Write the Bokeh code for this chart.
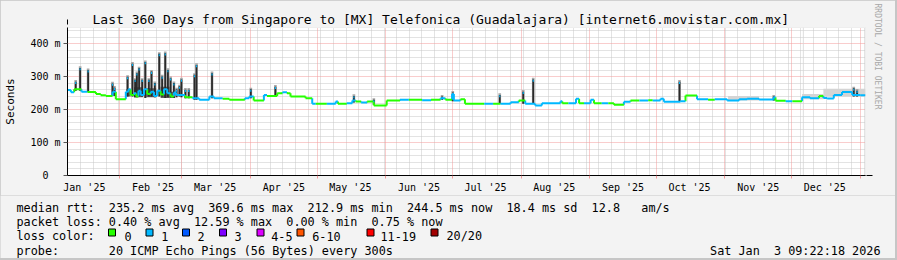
from datetime import datetime, timedelta
import math
from bokeh.plotting import figure
from bokeh.layouts import column
from bokeh.models import (FixedTicker, Grid, Arrow, NormalHead, Range1d, Title)
from bokeh.core.properties import value
from bokeh.embed import file_html
from bokeh.resources import INLINE

# ---------------- data ----------------
start = datetime(2025, 1, 8, 9, 22, 18)
end = datetime(2026, 1, 3, 9, 22, 18)

month_starts = ["2025-02-01", "2025-03-01", "2025-04-01", "2025-05-01", "2025-06-01",
                "2025-07-01", "2025-08-01", "2025-09-01", "2025-10-01", "2025-11-01",
                "2025-12-01", "2026-01-01"]
month_label_firsts = ["2025-01-01", "2025-02-01", "2025-03-01", "2025-04-01", "2025-05-01",
                      "2025-06-01", "2025-07-01", "2025-08-01", "2025-09-01", "2025-10-01",
                      "2025-11-01", "2025-12-01"]
month_labels = ["Jan '25", "Feb '25", "Mar '25", "Apr '25", "May '25", "Jun '25",
                "Jul '25", "Aug '25", "Sep '25", "Oct '25", "Nov '25", "Dec '25"]

y_ticks = [0, 100, 200, 300, 400]
y_tick_labels = ["0\u00a0\u00a0", "100 m", "200 m", "300 m", "400 m"]

# median rtt (ms) as steps: start day, value, loss class (0 -> 0 lost, 1 -> 1 lost)
base_day = [0, 1.5, 3, 6.3, 9, 12.8, 15, 17.3, 20.3, 21.8,
            26.3, 27.5, 28.5, 30, 31, 32, 33, 34.5, 36, 37.5, 39, 40.5, 42, 43.5, 45, 46.5, 48, 49,
            53, 56.4, 59.4, 64, 66, 70, 73, 80, 82, 84, 88.6, 90, 94.6, 97, 99, 100.6, 107.4,
            110.4, 112, 117, 121, 122, 126, 128.5, 130, 132.5, 135.2, 138.2, 144, 150, 154, 160,
            164, 168.3, 170.5, 173.5, 174.3, 177.3, 179.3, 188, 192, 195.3, 199.9, 203.6, 206.5,
            211, 214, 222.4, 223.2, 226, 229.4, 230.8, 233, 236, 237.5, 241, 244, 246.5, 251,
            254, 258, 262, 264, 267.5, 269, 276.5, 278.8, 284, 289, 292, 297.6, 303, 306.6, 312,
            318.6, 319.4, 324, 327, 331.4, 335, 339, 341, 342.7, 345.7, 349.4, 354, 357.7]
base_val = [260, 253, 262, 255, 254, 248, 244, 242, 255, 232,
            255, 262, 245, 250, 240, 258, 245, 262, 248, 255, 242, 258, 246, 262, 250, 240, 252,
            245, 238, 235, 230, 240, 235, 233, 230, 235, 240, 228, 245, 242, 250, 253, 250,
            240, 235, 218, 218, 218, 225, 218, 220, 228, 225, 222, 225, 213, 228, 230, 230, 229,
            230, 235, 230, 248, 228, 232, 218, 218, 218, 218, 223, 228, 218, 213, 220, 226, 220,
            220, 233, 220, 220, 230, 220, 220, 220, 215, 224, 228, 228, 229, 228, 233, 224, 226,
            243, 232, 230, 232, 228, 232, 233, 231, 238, 227, 226, 226, 238, 235, 242, 236, 234,
            245, 254, 245, 244]
base_loss = [1, 1, 0, 1, 0, 0, 0, 0, 1, 0,
             1, 1, 0, 1, 0, 1, 1, 1, 0, 1, 1, 1, 0, 1, 1, 0, 1,
             1, 0, 1, 1, 1, 1, 0, 0, 1, 1,
             0, 1, 0, 0, 1, 0, 0, 0, 1, 0, 1, 1, 0, 1, 1, 0, 1, 0, 0, 0, 1, 0, 1, 0, 1, 0, 1, 1,
             0, 0, 1, 0, 1, 1, 0, 1, 1, 1, 1, 0, 1, 1, 0, 1, 1, 0, 1, 0, 0, 1, 0, 1, 0, 1, 1, 1,
             1, 0, 1, 0, 1, 1, 1, 1, 1, 1, 0, 1, 0, 1, 1, 0, 1, 1, 1, 1, 1, 1]

# dense smoke spikes: day, lowest, highest rtt (ms)
spike_day = [3.7, 5.7, 9.3, 20.3, 21.2, 27.1, 29.3, 30.5, 31.3, 32.3, 33.7, 35.1, 36.7, 37.9,
             39.4, 41.4, 42.7, 44.1, 45.3, 46.5, 48.0, 49.2, 50.5, 51.4, 53.2, 54.7, 57.3, 58.2,
             65.2, 82.7, 93.8, 129.2, 138.2, 169.0, 173.8, 195.0, 205.6, 210.1, 276.1, 318.6,
             354.7, 356.2]
spike_top = [285, 327, 320, 280, 267, 300, 340, 291, 311, 326, 291, 345, 291, 316, 281, 370, 301,
             372, 321, 296, 281, 262, 271, 292, 261, 261, 306, 336, 311, 262, 270, 242, 230, 240,
             252, 245, 255, 292, 285, 240, 265, 258]
spike_low = [258, 258, 254, 242, 242, 240, 240, 238, 238, 240, 240, 236, 240, 240, 238, 240, 240,
             236, 238, 238, 236, 238, 240, 238, 235, 235, 230, 230, 235, 235, 245, 222, 215, 230,
             226, 218, 218, 218, 226, 228, 240, 240]

# dense smoke bands: start day, end day, low, high
dark_start = [26.5, 30.0, 35.5, 42.0, 46.0]
dark_end = [28.5, 34.0, 40.0, 46.0, 48.5]
dark_low = [240, 238, 238, 236, 236]
dark_high = [262, 268, 265, 270, 255]

# faint smoke bands: start day, end day, low, high
light_start = [298.0, 331.4, 341.0, 331.75]
light_end = [312.0, 341.0, 360.0, 332.1]
light_low = [228, 232, 240, 0]
light_high = [242, 248, 264, 450]

loss_colors = ["#26ff00", "#00b8ff", "#0059ff", "#7e00ff", "#dd00ff", "#ff5500", "#ff0000", "#a10000"]
loss_names = ["0", "1", "2", "3", "4-5", "6-10", "11-19", "20/20"]

stats_row1 = [("median rtt:", 0), ("235.2 ms avg", 13), ("369.6 ms max", 27), ("212.9 ms min", 41),
              ("244.5 ms now", 55), ("18.4 ms sd", 69), ("12.8", 81), ("am/s", 88)]
stats_row2 = [("packet loss:", 0), ("0.40 % avg", 13), ("12.59 % max", 25), ("0.00 % min", 38),
              ("0.75 % now", 50)]

# ---------------- helpers ----------------
def dday(s):
    if isinstance(s, str):
        s = datetime.strptime(s, "%Y-%m-%d")
    return (s - start).total_seconds() / 86400.0

span_days = dday(end)
ms_days = [dday(s) for s in month_starts]
lab_days = [dday(datetime.strptime(s, "%Y-%m-%d") + timedelta(days=15)) for s in month_label_firsts]

W, H = 897, 260
FW_ALL = 895          # figures leave a 2px shaded strip on the right
H1 = 195              # main figure height
H2 = 63               # legend figure height
L, TOP, FW, FH = 67, 27, 798, 151
MONO = "DejaVu Sans Mono"
BG = "#f3f3f3"

p = figure(width=FW_ALL, height=H1, output_backend="svg", toolbar_location=None,
           x_range=Range1d(0, span_days), y_range=Range1d(0, 450),
           min_border_left=L, min_border_right=FW_ALL - L - FW, min_border_top=TOP,
           min_border_bottom=H1 - TOP - FH)
p.border_fill_color = BG
p.background_fill_color = "#ffffff"
p.outline_line_color = None
p.grid.visible = False

p.title.text = "Last 360 Days from Singapore to [MX] Telefonica (Guadalajara) [internet6.movistar.com.mx]"
p.title.text_font = MONO
p.title.text_font_size = "13px"
p.title.text_font_style = "normal"
p.title.text_color = "#000000"
p.title.align = "left"
p.title.offset = 25
p.title.standoff = 2

p.add_layout(Title(text="RRDTOOL / TOBI OETIKER", text_font=MONO, text_font_size="8px",
                   text_font_style="normal", text_color="#a8a8a8", align="left",
                   vertical_align="top", offset=-24, standoff=10), "right")

# ---------------- grids ----------------
minor_y = [v for v in range(20, 450, 20) if v % 100 != 0]
minor_x = [6.0 + 5.7 * k for k in range(63) if 6.0 + 5.7 * k < span_days]
p.add_layout(Grid(dimension=1, ticker=FixedTicker(ticks=minor_y), grid_line_color="#c6c6c6",
                  grid_line_dash="1 1", level="underlay"))
p.add_layout(Grid(dimension=0, ticker=FixedTicker(ticks=minor_x), grid_line_color="#c6c6c6",
                  grid_line_dash="1 1", level="underlay"))
p.add_layout(Grid(dimension=1, ticker=FixedTicker(ticks=y_ticks[1:]), grid_line_color="#f29a9a",
                  grid_line_dash="1 1", level="underlay"))
p.add_layout(Grid(dimension=0, ticker=FixedTicker(ticks=ms_days), grid_line_color="#f29a9a",
                  grid_line_dash="1 1", level="underlay"))

# ---------------- smoke ----------------
p.quad(left=light_start, right=light_end, bottom=light_low, top=light_high,
       fill_color="#d4d4d4", line_color=None)
p.quad(left=[d - 0.6 for d in spike_day], right=[d + 0.6 for d in spike_day],
       bottom=spike_low, top=[t + 5 for t in spike_top], fill_color="#a8a8a8", line_color=None)
p.quad(left=dark_start, right=dark_end, bottom=dark_low, top=dark_high,
       fill_color="#3a3a3a", line_color=None, fill_alpha=0.8)
p.quad(left=[d - 0.4 for d in spike_day], right=[d + 0.4 for d in spike_day],
       bottom=spike_low, top=spike_top, fill_color="#2a2a2a", line_color=None)

# ---------------- median line ----------------
ends = base_day[1:] + [span_days]
hx0, hx1, hy, hc = [], [], [], []
for i in range(len(base_day)):
    hx0.append(base_day[i]); hx1.append(ends[i]); hy.append(base_val[i])
    hc.append(loss_colors[base_loss[i]])
vx, vy0, vy1, vc = [], [], [], []
for i in range(1, len(base_day)):
    vx.append(base_day[i]); vy0.append(base_val[i - 1]); vy1.append(base_val[i])
    vc.append(loss_colors[base_loss[i]])
p.segment(x0=vx, y0=vy0, x1=vx, y1=vy1, line_color=vc, line_width=2)
p.segment(x0=hx0, y0=hy, x1=hx1, y1=hy, line_color=hc, line_width=2)
p.segment(x0=[d - 0.25 for d in spike_day], y0=[t - 4 for t in spike_top],
          x1=[d + 0.25 for d in spike_day], y1=[t - 4 for t in spike_top],
          line_color=loss_colors[1], line_width=2)

# ---------------- axes ----------------
xa = p.xaxis[0]
xa.ticker = FixedTicker(ticks=lab_days, minor_ticks=ms_days)
xa.major_label_overrides = {d: lab for d, lab in zip(lab_days, month_labels)}
xa.major_tick_out = 0
xa.major_tick_in = 0
xa.minor_tick_out = 3
xa.minor_tick_in = 0
xa.minor_tick_line_color = "#f29a9a"
xa.major_label_standoff = 3
xa.major_label_text_font = MONO
xa.major_label_text_font_size = "10px"
xa.major_label_text_color = "#000000"
xa.axis_line_color = "#000000"

ya = p.yaxis[0]
ya.ticker = FixedTicker(ticks=y_ticks)
ya.major_label_overrides = {v: t for v, t in zip(y_ticks, y_tick_labels)}
ya.major_tick_out = 4
ya.major_tick_in = 0
ya.minor_tick_out = 0
ya.minor_tick_in = 0
ya.major_tick_line_color = "#555555"
ya.major_label_standoff = 3
ya.major_label_text_font = MONO
ya.major_label_text_font_size = "10px"
ya.major_label_text_color = "#000000"
ya.axis_line_color = "#000000"
ya.axis_label = "Seconds"
ya.axis_label_text_font = MONO
ya.axis_label_text_font_size = "11px"
ya.axis_label_text_font_style = "normal"
ya.axis_label_text_color = "#000000"
ya.axis_label_standoff = 10

p.add_layout(Arrow(x_start=0, y_start=FH, x_end=0, y_end=FH + 5,
                   start_units="screen", end_units="screen", line_color="#000000",
                   end=NormalHead(size=6, fill_color="#9b1b1b", line_color="#9b1b1b")))
p.add_layout(Arrow(x_start=-5, y_start=0, x_end=FW + 7, y_end=0,
                   start_units="screen", end_units="screen", line_color="#000000",
                   end=NormalHead(size=6, fill_color="#9b1b1b", line_color="#9b1b1b")))

# ---------------- legend area (second figure, pixel coordinates) ----------------
q = figure(width=FW_ALL, height=H2, output_backend="svg", toolbar_location=None,
           x_range=Range1d(0, FW_ALL), y_range=Range1d(H2, 0),
           x_axis_location=None, y_axis_location=None, min_border=0)
q.border_fill_color = BG
q.background_fill_color = BG
q.outline_line_color = None
q.grid.visible = False
for fig in (p, q):
    if "frame_align" in fig.properties():
        fig.frame_align = False

CW = 7.1
X0 = 16

def col(c):
    return X0 + c * CW

rows = [207.3 - H1, 221.6 - H1, 235.8 - H1, 250.0 - H1]
tx, ty, tt = [], [], []
for t, c in stats_row1:
    tx.append(col(c)); ty.append(rows[0]); tt.append(t)
for t, c in stats_row2:
    tx.append(col(c)); ty.append(rows[1]); tt.append(t)
tx.append(col(0)); ty.append(rows[2]); tt.append("loss color:")
box_x = [108, 145.5, 182, 219, 256.5, 296.5, 366.5, 430.5]
name_x = [124, 160.7, 197, 234, 270.7, 311.7, 380, 446]
for nx, name in zip(name_x, loss_names):
    tx.append(nx); ty.append(rows[2]); tt.append(name)
tx.append(col(0)); ty.append(rows[3]); tt.append("probe:")
tx.append(col(13)); ty.append(rows[3]); tt.append("20 ICMP Echo Pings (56 Bytes) every 300s")
q.text(x=tx, y=ty, text=tt, text_font=value(MONO), text_font_size="11.8px",
       text_baseline="alphabetic", text_align="left", text_color="#000000")
q.text(x=[880 - 17 * CW, 880], y=[rows[3], rows[3]], text=["Sat Jan", "3 09:22:18 2026"],
       text_font=value(MONO), text_font_size="11.8px", text_baseline="alphabetic",
       text_align="right", text_color="#000000")
q.rect(x=[b + 3.5 for b in box_x], y=[232.0 - H1] * len(box_x), width=7, height=7,
       fill_color=loss_colors, line_color="#000000", line_width=1)

lay = column(p, q, width=W, height=H, spacing=0,
             styles={"background-color": "#c6c6c6"})

open("out.html", "w").write(file_html(lay, INLINE))
